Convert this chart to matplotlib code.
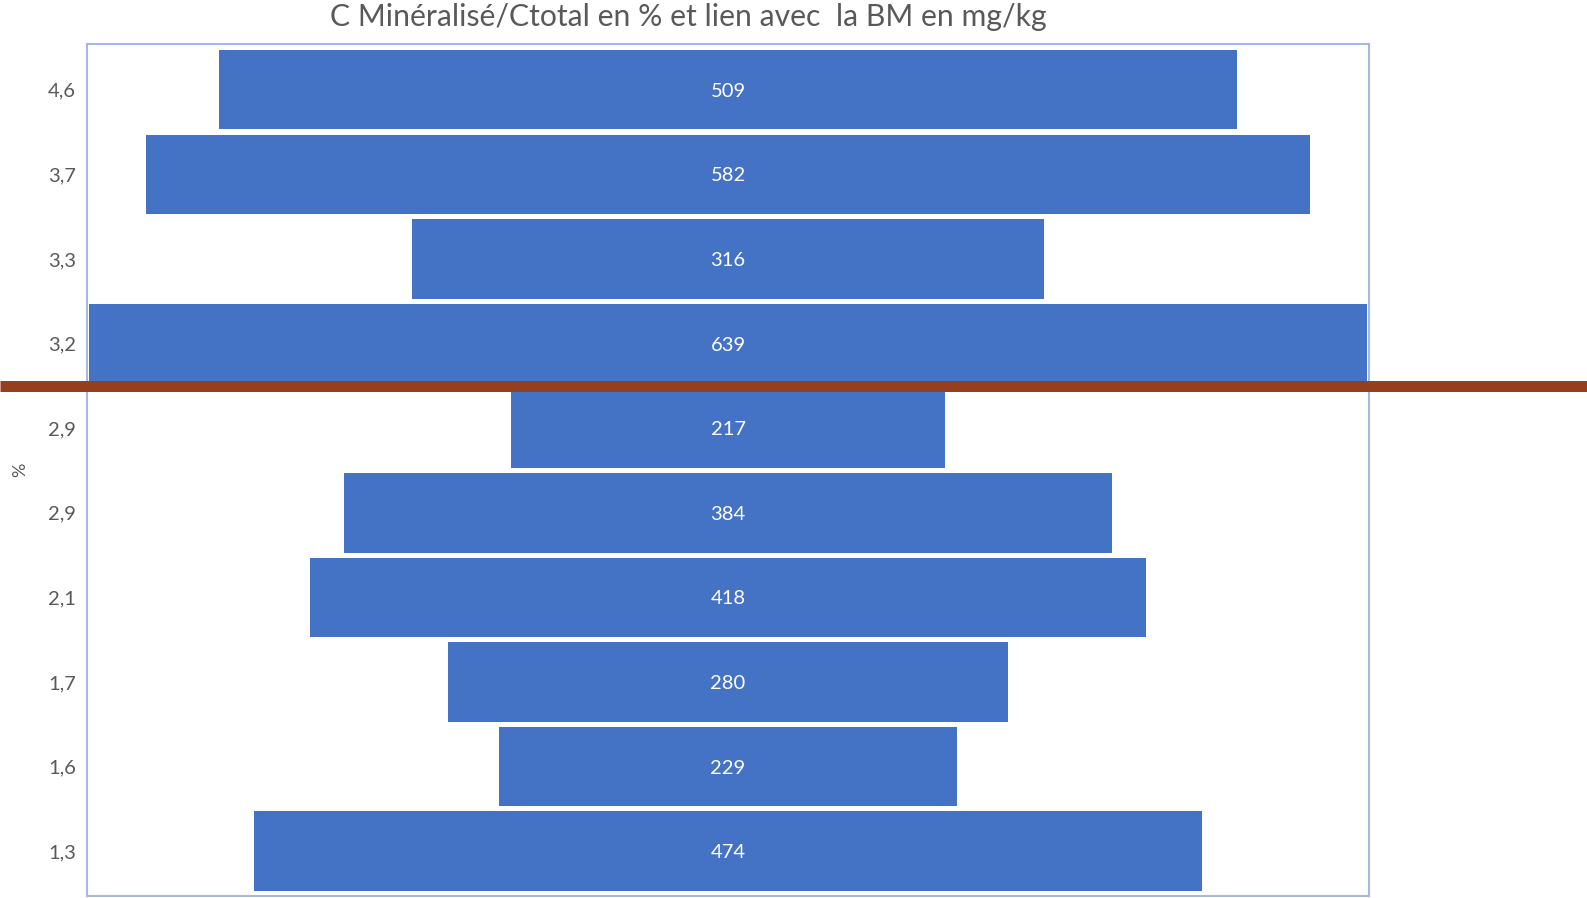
import matplotlib.pyplot as plt
import matplotlib.transforms as mtransforms
from matplotlib.lines import Line2D

plt.rcParams['font.family'] = ['Lato', 'DejaVu Sans']

# categories (C mineralise / C total, %) from top to bottom
ratio_labels = ["4,6", "3,7", "3,3", "3,2", "2,9", "2,9", "2,1", "1,7", "1,6", "1,3"]
# biomasse microbienne (mg/kg)
bm_values = [509, 582, 316, 639, 217, 384, 418, 280, 229, 474]

bar_color = "#4472C4"
text_gray = "#595959"

fig = plt.figure(figsize=(15.87, 8.98), dpi=100)
ax = fig.add_axes([0.0548, 0.0022, 0.8079, 0.9488])

ypos = list(range(len(bm_values)))
lefts = [-v / 2 for v in bm_values]
ax.barh(ypos, bm_values, left=lefts, height=0.94, color=bar_color)

for y, v in zip(ypos, bm_values):
    ax.text(0, y, str(v), ha="center", va="center_baseline", color="white", fontsize=14.5)

ax.set_xlim(-320.5, 320.5)
ax.set_ylim(9.53, -0.54)
ax.set_xticks([])
ax.set_yticks(ypos)
ax.set_yticklabels(ratio_labels, fontsize=14.5, color=text_gray, va="center_baseline")
ax.tick_params(axis="y", length=0, pad=8)

for s in ax.spines.values():
    s.set_color("#A4B9E3")
    s.set_linewidth(1.5)

fig.text(0.0125, 0.477, "%", rotation=90, ha="center", va="center",
         fontsize=13, color=text_gray)

fig.text(0.434, 0.981, "C Minéralisé/Ctotal en % et lien avec  la BM en mg/kg",
         ha="center", va="center", fontsize=21.7, color=text_gray)

# separation line between the two groups, across the whole figure
trans = mtransforms.blended_transform_factory(fig.transFigure, ax.transData)
fig.add_artist(Line2D([0, 1], [3.5, 3.5], transform=trans, color="#953F1E",
                      linewidth=7.9, solid_capstyle="butt"))

fig.savefig("out.png", dpi=100)
